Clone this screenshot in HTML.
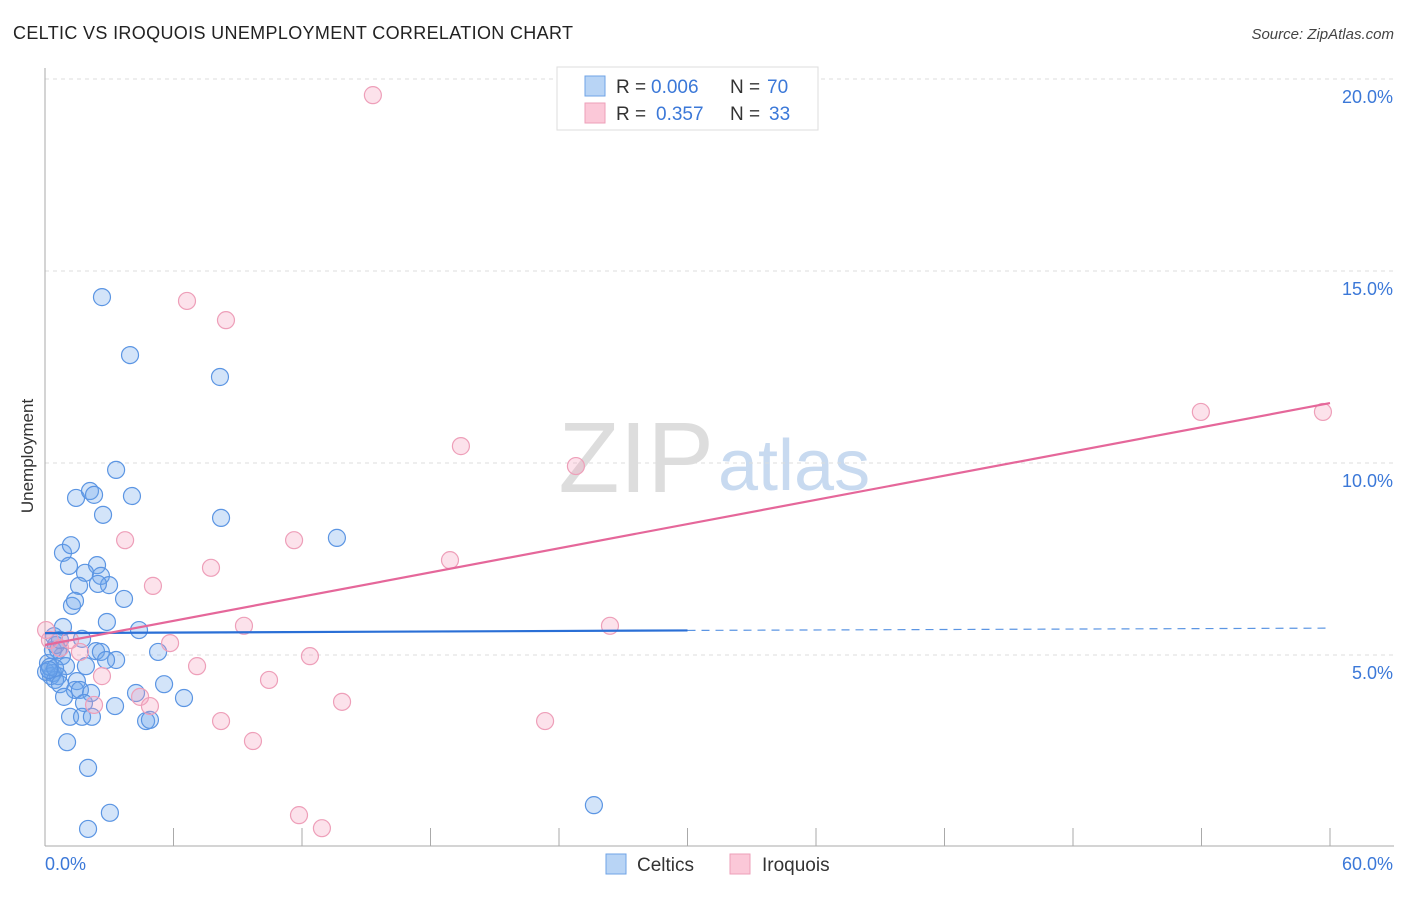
<!DOCTYPE html>
<html><head><meta charset="utf-8"><style>
body{margin:0;background:#fff;font-family:"Liberation Sans",sans-serif;}
svg text{font-family:"Liberation Sans",sans-serif;}
</style></head><body>
<svg id="chart" width="1406" height="892" xmlns="http://www.w3.org/2000/svg">
<text x="13" y="39" font-size="18" fill="#222" textLength="560">CELTIC VS IROQUOIS UNEMPLOYMENT CORRELATION CHART</text>
<text x="1394" y="39" font-size="15" fill="#444" font-style="italic" text-anchor="end">Source: ZipAtlas.com</text>
<text x="714" y="492" font-size="100" fill="#ddd" text-anchor="end" font-family="Liberation Serif">ZIP</text>
<text x="718" y="490" font-size="72" fill="#c8daf0">atlas</text>
<g id="grid"></g>
<g id="axes"></g>
<g id="points"></g>
<g id="trends"></g>
<text transform="translate(33,456) rotate(-90)" font-size="17" fill="#333" text-anchor="middle">Unemployment</text>
<g>
<rect x="557" y="67" width="261" height="63" fill="#fff" stroke="#ddd"/>
<rect x="585" y="76" width="20" height="20" fill="#b8d4f5" stroke="#6fa3e6"/>
<rect x="585" y="103" width="20" height="20" fill="#fbc8d8" stroke="#ee9fb9"/>
<text x="616" y="93" font-size="19" fill="#333">R =</text>
<text x="651" y="93" font-size="19" fill="#3b78d8">0.006</text>
<text x="730" y="93" font-size="19" fill="#333">N =</text>
<text x="767" y="93" font-size="19" fill="#3b78d8">70</text>
<text x="616" y="120" font-size="19" fill="#333">R =</text>
<text x="656" y="120" font-size="19" fill="#3b78d8">0.357</text>
<text x="730" y="120" font-size="19" fill="#333">N =</text>
<text x="769" y="120" font-size="19" fill="#3b78d8">33</text>
</g>
<rect x="606" y="854" width="20" height="20" fill="#b8d4f5" stroke="#6fa3e6"/>
<text x="637" y="871" font-size="19" fill="#333">Celtics</text>
<rect x="730" y="854" width="20" height="20" fill="#fbc8d8" stroke="#ee9fb9"/>
<text x="762" y="871" font-size="19" fill="#333">Iroquois</text>
</svg>
<script>
const yTicks=[5,10,15,20];
const yTickLabels=["5.0%","10.0%","15.0%","20.0%"];
const xTickVals=[0,6,12,18,24,30,36,42,48,54,60];
const xEndLabels=["0.0%","60.0%"];
const celticsX=[2.66,3.97,8.17,3.32,1.45,2.10,2.29,4.06,2.71,8.22,13.63,0.84,1.21,1.12,2.43,1.87,2.61,1.59,2.99,2.47,3.69,1.26,1.40,2.89,0.84,4.39,1.73,0.42,0.61,2.38,2.61,5.28,3.32,2.85,0.79,0.14,1.91,0.98,0.37,0.28,0.61,0.05,0.47,0.70,5.56,1.49,1.40,1.63,2.15,4.25,0.89,6.49,1.82,3.27,1.17,1.73,2.19,4.72,4.90,1.03,2.01,3.03,2.01,25.63,0.37,0.23,0.47,0.19,0.51,0.70];
const celticsY=[14.32,12.81,12.24,9.82,9.09,9.27,9.17,9.14,8.65,8.57,8.05,7.66,7.86,7.32,7.34,7.14,7.06,6.80,6.82,6.85,6.46,6.28,6.41,5.86,5.73,5.65,5.42,5.49,5.13,5.10,5.08,5.08,4.87,4.87,4.97,4.79,4.71,4.71,4.53,4.45,4.45,4.56,4.35,4.24,4.24,4.32,4.09,4.09,4.01,4.01,3.91,3.88,3.75,3.67,3.39,3.39,3.39,3.28,3.31,2.73,2.06,0.89,0.47,1.09,5.13,4.69,4.66,4.61,5.26,5.39];
const iroquoisX=[15.31,6.63,8.45,53.97,59.67,19.42,24.79,3.74,11.63,18.91,7.75,5.04,9.29,26.38,5.84,12.37,0.05,0.23,0.70,7.10,2.66,10.46,13.87,4.44,4.90,2.29,8.22,23.35,9.71,11.86,12.93,1.17,1.63];
const iroquoisY=[19.58,14.22,13.72,11.33,11.33,10.44,9.92,7.99,7.99,7.47,7.27,6.80,5.76,5.76,5.31,4.97,5.65,5.39,5.18,4.71,4.45,4.35,3.78,3.91,3.67,3.70,3.28,3.28,2.76,0.83,0.49,5.39,5.08];
const celticsTrend=[5.57,5.64,5.70];
const iroquoisTrend=[5.26,11.56];
const NS="http://www.w3.org/2000/svg";
const X=v=>45+v/60*1285;
const Y=v=>847-v*38.4;
function mk(tag,attrs,parent){const e=document.createElementNS(NS,tag);for(const k in attrs)e.setAttribute(k,attrs[k]);document.getElementById(parent).appendChild(e);return e;}
yTicks.forEach((t,i)=>{
  const l=mk('line',{x1:45,x2:1394,y1:Y(t),y2:Y(t),stroke:'#ddd','stroke-dasharray':'4,4'},'grid');
  
  
  const tx=mk('text',{x:1393,y:Y(t)+24,'font-size':18,fill:'#3b78d8','text-anchor':'end'},'axes');
  tx.textContent=yTickLabels[i];
  
  
});
const ax=mk('line',{x1:45,x2:45,y1:68,y2:846,stroke:'#aaa'},'axes');


const bx=mk('line',{x1:45,x2:1394,y1:846,y2:846,stroke:'#aaa'},'axes');


xTickVals.forEach(t=>{
  const l=mk('line',{x1:X(t),x2:X(t),y1:828,y2:846,stroke:'#aaa'},'axes');
  
  
});
[[0,'start'],[60,'end']].forEach((p,i)=>{
  const tx=mk('text',{x:i?1393:45,y:870,'font-size':18,fill:'#3b78d8','text-anchor':p[1]},'axes');
  tx.textContent=xEndLabels[i];
  
  
});
celticsX.forEach((x,i)=>{
  const c=mk('circle',{cx:X(x),cy:Y(celticsY[i]),r:8.5,fill:'rgba(110,165,235,0.3)',stroke:'#5b95e3','stroke-width':1.2},'points');
  
  
});
iroquoisX.forEach((x,i)=>{
  const c=mk('circle',{cx:X(x),cy:Y(iroquoisY[i]),r:8.5,fill:'rgba(245,160,190,0.3)',stroke:'#ee9fb9','stroke-width':1.2},'points');
  
  
});
const ct1=mk('line',{x1:X(0),y1:Y(celticsTrend[0]),x2:X(30),y2:Y(celticsTrend[1]),stroke:'#2a6fd6','stroke-width':2.2},'trends');


const ct2=mk('line',{x1:X(30),y1:Y(celticsTrend[1]),x2:X(60),y2:Y(celticsTrend[2]),stroke:'#5b95e3','stroke-width':1.2,'stroke-dasharray':'8,6'},'trends');


const it=mk('line',{x1:X(0),y1:Y(iroquoisTrend[0]),x2:X(60),y2:Y(iroquoisTrend[1]),stroke:'#e5679a','stroke-width':2.2},'trends');


</script>
</body></html>
